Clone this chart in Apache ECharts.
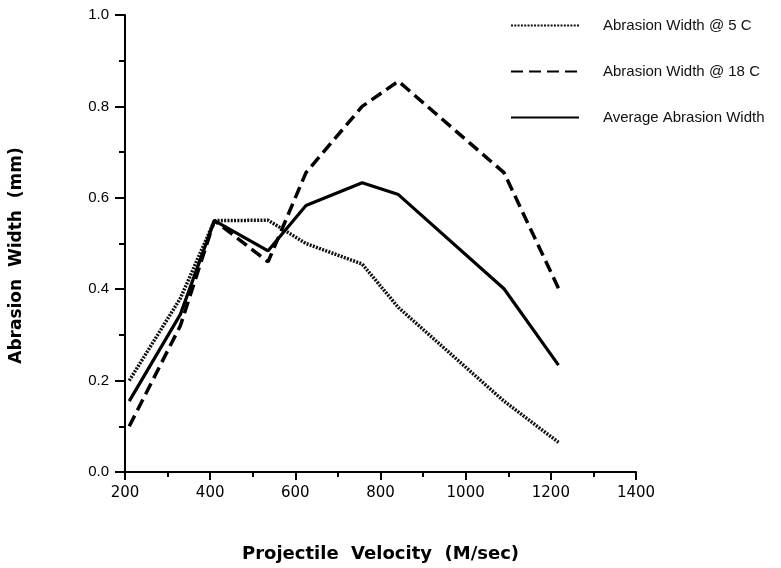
<!DOCTYPE html>
<html>
<head>
<meta charset="utf-8">
<script src="https://cdn.jsdelivr.net/npm/echarts@6/dist/echarts.min.js"></script>
<style>html,body{margin:0;padding:0;background:#fff}#c{width:781px;height:568px}</style>
</head>
<body>
<div id="c"></div>
<script>
const velocity = [210, 330, 410, 536, 625, 757, 842, 1090, 1218];
const width5C = [0.20, 0.38, 0.55, 0.551, 0.50, 0.455, 0.36, 0.155, 0.065];
const width18C = [0.10, 0.32, 0.55, 0.46, 0.655, 0.80, 0.855, 0.655, 0.402];
const widthAvg = [0.155, 0.345, 0.55, 0.484, 0.583, 0.633, 0.607, 0.401, 0.234];
const seriesNames = ['Abrasion Width @ 5 C', 'Abrasion Width @ 18 C', 'Average Abrasion Width'];
const xTitle = 'Projectile  Velocity  (M/sec)';
const yTitle = 'Abrasion  Width  (mm)';

const pairs = arr => velocity.map((v, i) => [v, arr[i]]);
const chart = echarts.init(document.getElementById('c'));
const font = '"Liberation Sans", Arial, sans-serif';
const wide = '"DejaVu Sans", sans-serif';
chart.setOption({
  animation: false,
  backgroundColor: '#fff',
  grid: { left: 123, right: 145, top: 15, bottom: 94 },
  legend: {
    orient: 'vertical', left: 505, top: 13, itemWidth: 68, itemHeight: 12, itemGap: 31,
    data: seriesNames,
    itemStyle: { opacity: 0 },
    textStyle: { fontFamily: font, fontSize: 15, color: '#111', padding: [0, 0, 0, 19] }
  },
  xAxis: {
    type: 'value', min: 200, max: 1400, interval: 200,
    name: xTitle, nameLocation: 'middle', nameGap: 73,
    nameTextStyle: { fontFamily: wide, fontSize: 18, fontWeight: 'bold', color: '#000' },
    axisLine: { lineStyle: { color: '#000', width: 2 } },
    axisTick: { length: 8, lineStyle: { color: '#000', width: 2 } },
    minorTick: { show: true, splitNumber: 2, length: 5, lineStyle: { color: '#000', width: 2 } },
    axisLabel: { fontFamily: wide, fontSize: 15, color: '#000', margin: 14, formatter: v => String(v) },
    splitLine: { show: false }
  },
  yAxis: {
    type: 'value', min: 0, max: 1, interval: 0.2,
    name: yTitle, nameLocation: 'middle', nameGap: 100, nameRotate: 90,
    nameTextStyle: { fontFamily: wide, fontSize: 17, fontWeight: 'bold', color: '#000', padding: [0, 24, 0, 0] },
    axisLine: { show: true, lineStyle: { color: '#000', width: 2 } },
    axisTick: { show: true, length: 10, lineStyle: { color: '#000', width: 2 } },
    minorTick: { show: true, splitNumber: 2, length: 6, lineStyle: { color: '#000', width: 2 } },
    axisLabel: { fontFamily: font, fontSize: 15, color: '#000', margin: 16, formatter: v => v.toFixed(1) },
    splitLine: { show: false }
  },
  series: [
    { name: seriesNames[0], type: 'line', data: pairs(width5C), symbol: 'none',
      lineStyle: { color: '#111', width: 3.5, type: [2, 1.3] }, itemStyle: { color: '#111' } },
    { name: seriesNames[1], type: 'line', data: pairs(width18C), symbol: 'none',
      lineStyle: { color: '#000', width: 3.5, type: [12, 6] }, itemStyle: { color: '#000' } },
    { name: seriesNames[2], type: 'line', data: pairs(widthAvg), symbol: 'none',
      lineStyle: { color: '#000', width: 3.2 }, itemStyle: { color: '#000' } }
  ]
});
</script>
</body>
</html>
